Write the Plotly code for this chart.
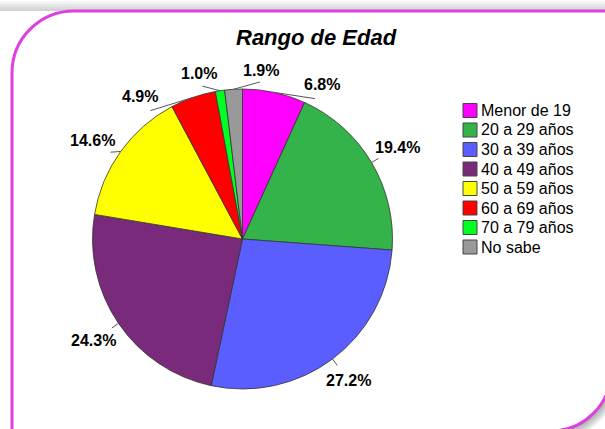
import math
import plotly.graph_objects as go

# ---------------- data ----------------
categories = ["Menor de 19", "20 a 29 años", "30 a 39 años", "40 a 49 años",
              "50 a 59 años", "60 a 69 años", "70 a 79 años", "No sabe"]
percentages = [6.8, 19.4, 27.2, 24.3, 14.6, 4.9, 1.0, 1.9]
colors = ["#ff00ff", "#33b34a", "#5b5eff", "#7a2a7a",
          "#ffff00", "#ff0000", "#00ff22", "#999999"]
title_text = "Rango de Edad"

# ---------------- layout constants (pixels) ----------------
W, H = 605, 429
CX, CY, R = 242.5, 239.0, 150.0
LABEL_FONT = "Liberation Sans Narrow, Arial Narrow, Liberation Sans, Arial"
LABEL_SIZE = 16
LEGEND_FONT = "Liberation Sans, Arial, sans-serif"
FRAME_COLOR = "#de3fe0"


def px(x):
    return x / W


def py(y):
    return 1 - y / H


fig = go.Figure()
fig.add_trace(go.Pie(
    labels=categories, values=percentages, sort=False,
    direction="clockwise", rotation=0,
    marker=dict(colors=colors, line=dict(color="#333333", width=0.8)),
    textinfo="none", hoverinfo="label+value", showlegend=False,
    domain=dict(x=[px(CX - R), px(CX + R)], y=[py(CY + R), py(CY - R)]),
))

shapes = []
annotations = []


def frame_path(l, t, r, b, r1, r2):
    k = 0.5523
    pts = [
        ("M", [(l, t + r1)]),
        ("C", [(l, t + r1 - k * r1), (l + r1 - k * r1, t), (l + r1, t)]),
        ("L", [(r, t)]),
        ("L", [(r, b - r2)]),
        ("C", [(r, b - r2 + k * r2), (r - r2 + k * r2, b), (r - r2, b)]),
        ("L", [(l, b)]),
    ]
    s = ""
    for cmd, ps in pts:
        s += cmd + " ".join(f"{px(x):.5f},{py(y):.5f}" for x, y in ps) + " "
    return s + "Z"


# top shading band
for k in range(6):
    shapes.append(dict(type="rect", xref="paper", yref="paper", layer="below",
                       x0=0, x1=1, y0=py(11), y1=py(11 - 2 * k),
                       fillcolor="rgba(0,0,0,0.035)", line=dict(width=0)))
# shadow around the lower-right corner
for k in range(1, 6):
    shapes.append(dict(type="path", xref="paper", yref="paper", layer="below",
                       path=frame_path(12, 11, 611 + 2 * k, 431 + 2 * k, 62, 60 + 2 * k),
                       fillcolor="rgba(0,0,0,0.07)", line=dict(width=0)))
# frame
shapes.append(dict(type="path", xref="paper", yref="paper", layer="below",
                   path=frame_path(12, 11, 611, 431, 62, 60),
                   fillcolor="white", line=dict(color=FRAME_COLOR, width=3)))

# ---------------- slice labels with leader lines ----------------
total = sum(percentages)
n = len(percentages)
mids = []
cum = 0.0
for v in percentages:
    mids.append((cum + v / 2) / total * 360.0)
    cum += v

# label angles: spread crowded labels (cluster merging)
GAP = 21.0
order = sorted(range(n), key=lambda i: mids[i])
gaps = [((mids[order[(k + 1) % n]] - mids[order[k]]) % 360, k) for k in range(n)]
start = (max(gaps)[1] + 1) % n
seq = [order[(start + k) % n] for k in range(n)]
unw = []
base_angle = mids[seq[0]]
for i in seq:
    unw.append(base_angle + (mids[i] - base_angle) % 360)
clusters = [[k] for k in range(n)]


def cluster_pos(cl):
    c = sum(unw[k] for k in cl) / len(cl)
    return [c + (j - (len(cl) - 1) / 2) * GAP for j in range(len(cl))]


changed = True
while changed:
    changed = False
    for k in range(len(clusters) - 1):
        if cluster_pos(clusters[k])[-1] + GAP > cluster_pos(clusters[k + 1])[0] + 1e-9:
            clusters[k] = clusters[k] + clusters[k + 1]
            del clusters[k + 1]
            changed = True
            break
lab = [0.0] * n
for cl in clusters:
    for k, p in zip(cl, cluster_pos(cl)):
        lab[seq[k]] = p % 360

CW = {"0": .456, "1": .456, "2": .456, "3": .456, "4": .456, "5": .456,
      "6": .456, "7": .456, "8": .456, "9": .456, ".": .228, "%": .729}
BASE = 161.0
TH = 13.0
for v, m, a in zip(percentages, mids, lab):
    txt = f"{v:.1f}%"
    w = sum(CW.get(c, .5) for c in txt) * LABEL_SIZE
    ar = math.radians(a)
    mr = math.radians(m)
    s, c = math.sin(ar), math.cos(ar)
    ext = abs(s) * w / 2 + abs(c) * TH / 2
    rt = BASE + ext
    tx, ty = CX + rt * s, CY - rt * c
    x0, y0 = CX + R * math.sin(mr), CY - R * math.cos(mr)
    x1, y1 = CX + (BASE - 3) * s, CY - (BASE - 3) * c
    shapes.append(dict(type="line", xref="paper", yref="paper", layer="above",
                       x0=px(x0), y0=py(y0), x1=px(x1), y1=py(y1),
                       line=dict(color="#555555", width=1)))
    annotations.append(dict(x=px(tx), y=py(ty), xref="paper", yref="paper",
                            text=f"<b>{txt}</b>", showarrow=False,
                            xanchor="center", yanchor="middle",
                            font=dict(family=LABEL_FONT, size=LABEL_SIZE, color="black")))

# ---------------- legend (manual) ----------------
LX, LY0, LDY, LS = 463, 110.5, 19.5, 14
for i, (cat, col) in enumerate(zip(categories, colors)):
    yc = LY0 + i * LDY
    shapes.append(dict(type="rect", xref="paper", yref="paper", layer="above",
                       x0=px(LX), x1=px(LX + LS), y0=py(yc + LS / 2), y1=py(yc - LS / 2),
                       fillcolor=col, line=dict(color="#444444", width=1)))
    annotations.append(dict(x=px(LX + LS + 2), y=py(yc), xref="paper", yref="paper",
                            text=cat, showarrow=False, xanchor="left", yanchor="middle",
                            font=dict(family=LEGEND_FONT, size=16, color="black")))

# ---------------- title ----------------
annotations.append(dict(x=px(316), y=py(37.5), xref="paper", yref="paper",
                        text=f"<b><i>{title_text}</i></b>", showarrow=False,
                        xanchor="center", yanchor="middle",
                        font=dict(family="Liberation Sans, Arial, sans-serif", size=22, color="black")))

fig.update_layout(
    width=W, height=H, margin=dict(l=0, r=0, t=0, b=0),
    paper_bgcolor="white", plot_bgcolor="white",
    shapes=shapes, annotations=annotations, showlegend=False,
)
fig.write_html("out.html", config={"displayModeBar": False},
               post_script="document.body.style.margin='0px';document.body.style.overflow='hidden';")
